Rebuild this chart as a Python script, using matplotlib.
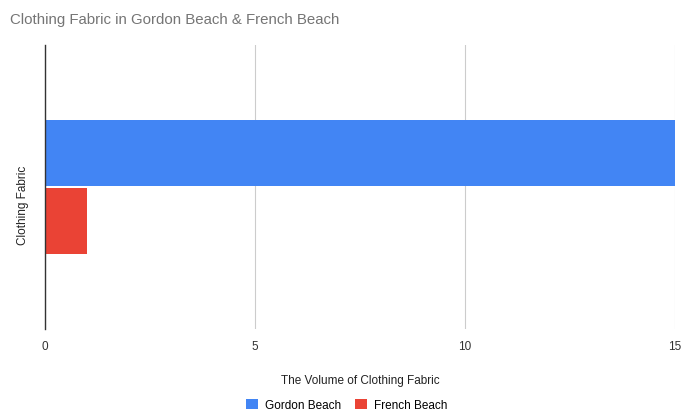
import matplotlib
matplotlib.use("Agg")
import matplotlib.pyplot as plt
from matplotlib.patches import Patch

plt.rcParams['font.family'] = ['Liberation Sans', 'DejaVu Sans']

series = ['Gordon Beach', 'French Beach']
values = [15, 1]
colors = ['#4285f4', '#ea4335']
ticks = [0, 5, 10, 15]

fig = plt.figure(figsize=(6.93, 4.14), dpi=100)
ax = fig.add_axes([0.065, 0.203, 0.909, 0.686])

bar_h = 0.233
offsets = [bar_h / 2 + 0.003, -bar_h / 2 - 0.003]
for name, val, col, off in zip(series, values, colors, offsets):
    ax.barh(off, val, height=bar_h, color=col, label=name)

ax.set_xlim(0, 15)
ax.set_ylim(-0.5, 0.5)
ax.set_xticks(ticks)
ax.set_xticklabels([str(t) for t in ticks], fontsize=8.5, color='#333333')
ax.set_yticks([])
ax.tick_params(axis='x', length=0, pad=8)
ax.grid(axis='x', color='#cccccc', linewidth=0.8)
ax.set_axisbelow(True)
for s in ['top', 'right', 'bottom']:
    ax.spines[s].set_visible(False)
ax.spines['left'].set_color('#333333')
ax.spines['left'].set_linewidth(1)
ax.spines['left'].set_zorder(3)

ax.set_xlabel('The Volume of Clothing Fabric', fontsize=8.5, color='#222222', labelpad=16)
ax.set_ylabel('Clothing Fabric', fontsize=8.5, color='#222222')
ax.yaxis.set_label_coords(-0.026, 0.44)

fig.text(0.014, 0.952, 'Clothing Fabric in Gordon Beach & French Beach',
         fontsize=10.8, color='#757575', va='center', ha='left')

handles = [Patch(facecolor=c, label=n) for n, c in zip(series, colors)]
fig.legend(handles=handles, loc='center', bbox_to_anchor=(0.5, 0.02),
           ncol=2, frameon=False, fontsize=8.5, handlelength=1.0, handleheight=1.0,
           columnspacing=1.2, handletextpad=0.6)

fig.savefig('out.png', dpi=100)
